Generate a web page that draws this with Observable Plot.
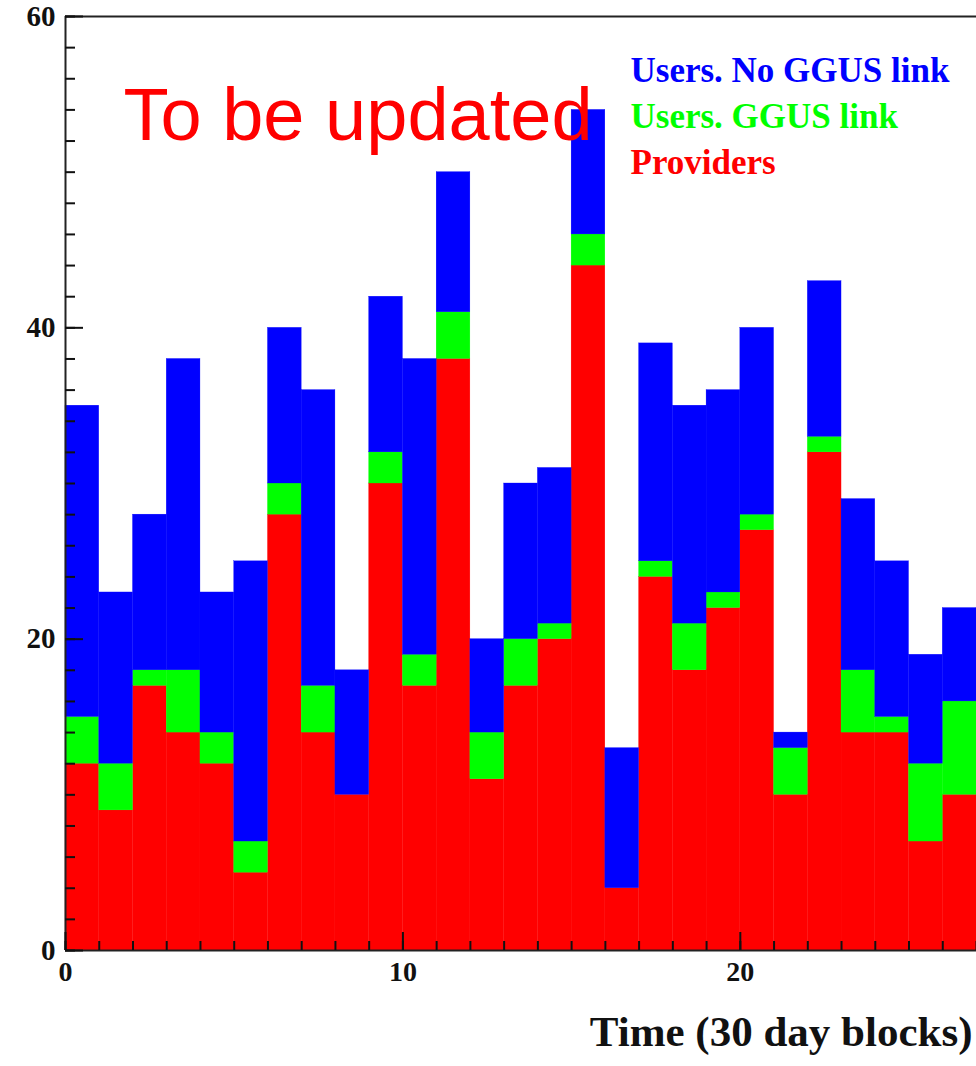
<!DOCTYPE html>
<html>
<head>
<meta charset="utf-8">
<script src="https://cdn.jsdelivr.net/npm/d3@7"></script>
<script src="https://cdn.jsdelivr.net/npm/@observablehq/plot@0.6"></script>
<style>
  html, body { margin: 0; padding: 0; background: #fff; }
  #chart svg { display: block; }
</style>
</head>
<body>
<div id="chart"></div>
<script>
// 30-day time blocks (bin index)
const bins = d3.range(0, 27);
// Series names (stack order bottom -> top) and colours
const seriesNames = ["Providers", "Users. GGUS link", "Users. No GGUS link"];
const seriesColors = ["#ff0000", "#00ff00", "#0000ff"];
// Counts per bin for each series
const providers  = [12, 9,17,14,12, 5,28,14,10,30,17,38,11,17,20,44, 4,24,18,22,27,10,32,14,14, 7,10];
const ggusLink   = [ 3, 3, 1, 4, 2, 2, 2, 3, 0, 2, 2, 3, 3, 3, 1, 2, 0, 1, 3, 1, 1, 3, 1, 4, 1, 5, 6];
const noGgusLink = [20,11,10,20, 9,18,10,19, 8,10,19, 9, 6,10,10, 8, 9,14,14,13,12, 1,10,11,10, 7, 6];
// Axis ticks
const yMajorTicks = [0, 20, 40, 60];
const yMinorTicks = d3.range(0, 61, 2);
const xMajorTicks = [0, 10, 20];
const xMinorTicks = d3.range(0, 28, 1);
const xLabel = "Time (30 day blocks)";
const overlayNote = "To be updated";

const seriesValues = [providers, ggusLink, noGgusLink];
const rows = [];
seriesNames.forEach((name, s) => {
  bins.forEach((b, i) => rows.push({bin: b, series: name, value: seriesValues[s][i]}));
});

const serif = "'Liberation Serif', 'Times New Roman', serif";

// legend rows, top to bottom
const legendOrder = seriesNames.slice().reverse();
const legendMarks = legendOrder.map((name, i) =>
  Plot.text([name], {
    frameAnchor: "top-right",
    dx: -346,
    dy: 54 + i * 46,
    textAnchor: "start",
    lineAnchor: "middle",
    fontSize: 35,
    fontWeight: "bold",
    fill: seriesColors[seriesNames.indexOf(name)]
  })
);

const plot = Plot.plot({
  width: 976,
  height: 1066,
  marginLeft: 65,
  marginRight: 0,
  marginTop: 16,
  marginBottom: 116,
  style: {fontFamily: serif, background: "#fff", overflow: "visible"},
  x: {domain: [0, 27]},
  y: {domain: [0, 60]},
  color: {domain: seriesNames, range: seriesColors},
  marks: [
    Plot.rectY(rows, {
      x1: "bin",
      x2: d => d.bin + 1,
      y: "value",
      fill: "series",
      order: seriesNames,
      inset: 0,
      stroke: "series",
      strokeWidth: 0.3
    }),
    // frame lines
    Plot.ruleX([0], {stroke: "#222", strokeWidth: 2}),
    Plot.ruleY([0, 60], {stroke: "#222", strokeWidth: 2}),
    // y ticks (inward)
    Plot.axisY({ticks: yMinorTicks, tickSize: -10, tickFormat: () => "", label: null, stroke: "#111", strokeWidth: 2}),
    Plot.axisY({ticks: yMajorTicks, tickSize: -18, tickFormat: () => "", label: null, stroke: "#111", strokeWidth: 2}),
    Plot.axisY({ticks: yMajorTicks, tickSize: 0, tickPadding: 10, label: null, fontSize: 29, fontWeight: "bold", fill: "#111"}),
    // x ticks (inward)
    Plot.axisX({ticks: xMinorTicks, tickSize: -9, tickFormat: () => "", label: null, stroke: "#111", strokeWidth: 2}),
    Plot.axisX({ticks: xMajorTicks, tickSize: 0, tickPadding: 0, tickFormat: () => "", label: null}),
    Plot.axisX({ticks: xMajorTicks, tickSize: -18, tickFormat: () => "", label: null, stroke: "#111", strokeWidth: 2}),
    Plot.axisX({ticks: xMajorTicks, tickSize: 0, tickPadding: 11, label: null, fontSize: 28, fontWeight: "bold", fill: "#111"}),
    // x axis title
    Plot.text([xLabel], {frameAnchor: "bottom-right", dx: -4, dy: 82, textAnchor: "end", lineAnchor: "middle", fontSize: 43, fontWeight: "bold", fill: "#111"}),
    // legend
    ...legendMarks,
    // overlay note
    Plot.text([overlayNote], {frameAnchor: "top-left", dx: 58, dy: 100, textAnchor: "start", lineAnchor: "middle", fontSize: 74, fontFamily: "'Liberation Sans', Arial, sans-serif", fill: "#ff0000"})
  ]
});
document.getElementById("chart").appendChild(plot);
</script>
</body>
</html>
